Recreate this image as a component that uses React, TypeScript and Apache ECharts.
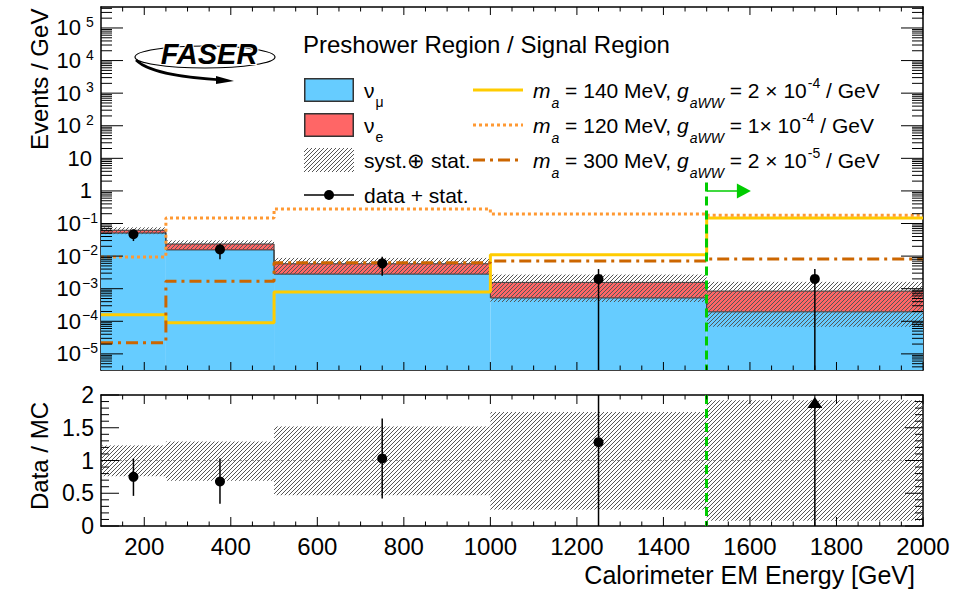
import React, { useEffect, useRef } from "react";
import * as echarts from "echarts";

const FONT = '"Liberation Sans", Arial, Helvetica, sans-serif';

// ---------- data ----------
const binEdges = [100, 250, 500, 1000, 1500, 2000];
const numuRate = [0.051, 0.0155, 0.0028, 0.00052, 0.000195];
const nueRate = [0.011, 0.008, 0.003, 0.00104, 0.00065];
const systLow = [0.76, 0.69, 0.47, 0.25, 0.08];
const systHigh = [1.23, 1.29, 1.52, 1.74, 1.92];
const dataRate = [0.0467, 0.016, 0.006, 0.002, 0.002];
const dataRateErr = [0.0177, 0.008, 0.0035, 0.002, 0.002];
const alp140 = [1.6e-4, 9.0e-5, 7.9e-4, 0.011, 0.148];
const alp120 = [0.0094, 0.148, 0.28, 0.196, 0.18];
const alp300 = [2.2e-5, 0.0017, 0.0062, 0.0071, 0.0082];
const ratioVal = [0.75, 0.68, 1.03, 1.28, 2.35];
const ratioLow = [0.46, 0.34, 0.42, 0, 0];
const ratioHigh = [1.03, 1.03, 1.64, 2.56, 4.7];

// ---------- axes / ticks ----------
const X_MIN = 100;
const X_MAX = 2000;
const Y_MIN = 3.2e-6;
const Y_MAX = 4.4e5;
const R_MIN = 0;
const R_MAX = 2;
const SIGNAL_CUT = 1500;
const xMajorTicks = [200, 400, 600, 800, 1000, 1200, 1400, 1600, 1800, 2000];
const logExponents = [-5, -4, -3, -2, -1, 0, 1, 2, 3, 4, 5];
const ratioMajorTicks = [0, 0.5, 1, 1.5, 2];

const xMinorTicks: number[] = [];
for (let v = 150; v < X_MAX; v += 50) if (v % 200 !== 0) xMinorTicks.push(v);
const yMajorTicks = logExponents.map((e) => Math.pow(10, e));
const yMinorTicks: number[] = [];
for (let e = -6; e <= 5; e++) {
  for (let m = 2; m <= 9; m++) {
    const v = m * Math.pow(10, e);
    if (v > Y_MIN && v < Y_MAX) yMinorTicks.push(v);
  }
}
const ratioMinorTicks: number[] = [];
for (let k = 1; k < 20; k++) if (k % 5 !== 0) ratioMinorTicks.push(k / 10);

// ---------- colours ----------
const BLUE = "#66ccff";
const RED = "#ff6666";
const YELLOW = "#ffcc00";
const ORANGE = "#ff9933";
const DARKORANGE = "#cc6600";
const GREEN = "#00cc00";
const HATCH = "#555555";

const mcTotal = numuRate.map((v, i) => v + nueRate[i]);
const binCenters = binEdges.slice(0, -1).map((e, i) => (e + binEdges[i + 1]) / 2);
const stepData = (vals: number[]) =>
  binEdges.map((e, i) => [e, vals[Math.min(i, vals.length - 1)]]);

type TickSpec = { dir: string; v: number; len: number };
const topTicks: TickSpec[] = [];
xMajorTicks.forEach((v) => topTicks.push({ dir: "x", v, len: 8 }));
xMinorTicks.forEach((v) => topTicks.push({ dir: "x", v, len: 4.5 }));
yMajorTicks.forEach((v) => topTicks.push({ dir: "y", v, len: 22 }));
yMinorTicks.forEach((v) => topTicks.push({ dir: "y", v, len: 11 }));
const ratioTicks: TickSpec[] = [];
xMajorTicks.forEach((v) => ratioTicks.push({ dir: "x", v, len: 9 }));
xMinorTicks.forEach((v) => ratioTicks.push({ dir: "x", v, len: 4.5 }));
ratioMajorTicks.forEach((v) => ratioTicks.push({ dir: "y", v, len: 18 }));
ratioMinorTicks.forEach((v) => ratioTicks.push({ dir: "y", v, len: 8 }));

function hatchLines(x0: number, y0: number, x1: number, y1: number, step: number) {
  const out: any[] = [];
  const cStart = Math.ceil((x0 + y0) / step) * step;
  for (let c = cStart; c <= x1 + y1; c += step) {
    const xa = Math.max(x0, c - y1);
    const ya = c - xa;
    const xb = Math.min(x1, c - y0);
    const yb = c - xb;
    if (xb > xa) out.push({ type: "line", shape: { x1: xa, y1: ya, x2: xb, y2: yb }, style: { stroke: HATCH, lineWidth: 1 } });
  }
  return out;
}

const svgIcon = (inner: string) =>
  "image://data:image/svg+xml;charset=utf-8," +
  encodeURIComponent(
    `<svg xmlns="http://www.w3.org/2000/svg" width="50" height="24" viewBox="0 0 50 24">${inner}</svg>`
  );

const hatchSvg = (() => {
  let s = "";
  for (let c = -24; c <= 50; c += 4) {
    s += `<line x1="${c}" y1="24" x2="${c + 24}" y2="0" stroke="${HATCH}" stroke-width="1"/>`;
  }
  return s;
})();

const NAME_NUMU = "νμ";
const NAME_NUE = "νe";
const NAME_SYST = "syst.⊕ stat.";
const NAME_DATA = "data + stat.";
const NAME_140 = "ma = 140 MeV, gaWW = 2 × 10-4 / GeV";
const NAME_120 = "ma = 120 MeV, gaWW = 1× 10-4 / GeV";
const NAME_300 = "ma = 300 MeV, gaWW = 2 × 10-5 / GeV";

const legendRich: Record<string, string> = {
  [NAME_NUMU]: "{b|ν}{sub|μ}",
  [NAME_NUE]: "{b|ν}{sub|e}",
  [NAME_SYST]: "{b|syst.⊕ stat.}",
  [NAME_DATA]: "{b|data + stat.}",
  [NAME_140]: "{i|m}{si|a}{b| = 140 MeV, }{i|g}{si|aWW}{b| = 2 × 10}{sup|-4}{b| / GeV}",
  [NAME_120]: "{i|m}{si|a}{b| = 120 MeV, }{i|g}{si|aWW}{b| = 1× 10}{sup|-4}{b| / GeV}",
  [NAME_300]: "{i|m}{si|a}{b| = 300 MeV, }{i|g}{si|aWW}{b| = 2 × 10}{sup|-5}{b| / GeV}",
};

const frameLine = () => ({ show: true, onZero: false, lineStyle: { color: "#000", width: 1.5 } });

function xAxisDef(gridIndex: number, position: string, labels: boolean) {
  return {
    type: "value",
    gridIndex,
    position,
    min: X_MIN,
    max: X_MAX,
    axisLine: frameLine(),
    axisTick: { show: false },
    axisLabel: labels
      ? {
          show: true,
          customValues: xMajorTicks,
          margin: 8,
          fontSize: 24,
          fontFamily: FONT,
          color: "#000",
          formatter: (v: number) => String(v),
        }
      : { show: false },
    splitLine: { show: false },
  };
}

function yLogDef(position: string, labels: boolean) {
  return {
    type: "log",
    logBase: 10,
    gridIndex: 0,
    position,
    min: Y_MIN,
    max: Y_MAX,
    axisLine: frameLine(),
    axisTick: { show: false },
    axisLabel: labels
      ? {
          show: true,
          customValues: yMajorTicks,
          margin: 2,
          fontFamily: FONT,
          color: "#000",
          formatter: (v: number) => {
            const e = Math.round(Math.log10(v));
            if (e === 0) return "{p|1}";
            if (e === 1) return "{p|10}";
            return `{b|10}{s|${e < 0 ? "−" + -e : e}}`;
          },
          rich: {
            p: { fontSize: 22, fontFamily: FONT, padding: [0, 7, 0, 0], lineHeight: 34 },
            b: { fontSize: 22, fontFamily: FONT, lineHeight: 34 },
            s: { fontSize: 14, fontFamily: FONT, lineHeight: 14, width: 18, align: "left", verticalAlign: "top", padding: [4, 0, 0, 0] },
          },
        }
      : { show: false },
    splitLine: { show: false },
  };
}

function yRatioDef(position: string, labels: boolean) {
  return {
    type: "value",
    gridIndex: 1,
    position,
    min: R_MIN,
    max: R_MAX,
    axisLine: frameLine(),
    axisTick: { show: false },
    axisLabel: labels
      ? { show: true, customValues: ratioMajorTicks, margin: 7, fontSize: 23, fontFamily: FONT, color: "#000" }
      : { show: false },
    splitLine: { show: false },
  };
}

function buildOption(): any {
  const series: any[] = [
    {
      name: NAME_NUMU,
      type: "custom",
      xAxisIndex: 0,
      yAxisIndex: 0,
      z: 1,
      data: binCenters.map((c, i) => [c, numuRate[i]]),
      renderItem: (params: any, api: any) => {
        const i = params.dataIndex;
        const a = api.coord([binEdges[i], numuRate[i]]);
        const b = api.coord([binEdges[i + 1], Y_MIN]);
        return { type: "rect", shape: { x: a[0], y: a[1], width: b[0] - a[0], height: b[1] - a[1] }, style: { fill: BLUE } };
      },
    },
    {
      name: NAME_NUE,
      type: "custom",
      xAxisIndex: 0,
      yAxisIndex: 0,
      z: 1,
      data: binCenters.map((c, i) => [c, mcTotal[i]]),
      renderItem: (params: any, api: any) => {
        const i = params.dataIndex;
        const a = api.coord([binEdges[i], mcTotal[i]]);
        const b = api.coord([binEdges[i + 1], numuRate[i]]);
        return { type: "rect", shape: { x: a[0], y: a[1], width: b[0] - a[0], height: b[1] - a[1] }, style: { fill: RED } };
      },
    },
    {
      name: "numu-outline",
      type: "line",
      xAxisIndex: 0,
      yAxisIndex: 0,
      z: 2,
      step: "end",
      symbol: "none",
      data: stepData(numuRate),
      lineStyle: { color: "#333", width: 1 },
      silent: true,
    },
    {
      name: "mc-outline",
      type: "line",
      xAxisIndex: 0,
      yAxisIndex: 0,
      z: 2,
      step: "end",
      symbol: "none",
      data: stepData(mcTotal),
      lineStyle: { color: "#333", width: 1 },
      silent: true,
    },
    {
      name: NAME_SYST,
      type: "custom",
      xAxisIndex: 0,
      yAxisIndex: 0,
      z: 3,
      data: binCenters.map((c, i) => [c, mcTotal[i]]),
      renderItem: (params: any, api: any) => {
        const i = params.dataIndex;
        const a = api.coord([binEdges[i], mcTotal[i] * systHigh[i]]);
        const b = api.coord([binEdges[i + 1], mcTotal[i] * systLow[i]]);
        return { type: "group", children: hatchLines(a[0], a[1], b[0], b[1], 4) };
      },
    },
    {
      name: NAME_140,
      type: "line",
      xAxisIndex: 0,
      yAxisIndex: 0,
      z: 4,
      step: "end",
      symbol: "none",
      data: stepData(alp140),
      lineStyle: { color: YELLOW, width: 3 },
      markLine: {
        silent: true,
        symbol: "none",
        z: 6,
        label: { show: false },
        lineStyle: { color: GREEN, width: 3, type: [9, 5] },
        data: [
          [{ coord: [SIGNAL_CUT, 1.8] }, { coord: [SIGNAL_CUT, Y_MIN] }],
          [
            { coord: [SIGNAL_CUT, 1], symbol: "none", lineStyle: { color: GREEN, width: 1.5, type: "solid" } },
            { coord: [1586, 1], symbol: "triangle", symbolSize: [15, 14] },
          ],
        ],
      },
    },
    {
      name: NAME_120,
      type: "line",
      xAxisIndex: 0,
      yAxisIndex: 0,
      z: 4,
      step: "end",
      symbol: "none",
      data: stepData(alp120),
      lineStyle: { color: ORANGE, width: 3, type: [3, 3] },
    },
    {
      name: NAME_300,
      type: "line",
      xAxisIndex: 0,
      yAxisIndex: 0,
      z: 4,
      step: "end",
      symbol: "none",
      data: stepData(alp300),
      lineStyle: { color: DARKORANGE, width: 3, type: [12, 5, 3, 5] },
    },
    {
      name: NAME_DATA,
      type: "custom",
      xAxisIndex: 0,
      yAxisIndex: 0,
      z: 7,
      data: binCenters.map((c, i) => [c, dataRate[i]]),
      renderItem: (params: any, api: any) => {
        const i = params.dataIndex;
        const x = binCenters[i];
        const c = api.coord([x, dataRate[i]]);
        const top = api.coord([x, dataRate[i] + dataRateErr[i]]);
        const bot = api.coord([x, Math.max(dataRate[i] - dataRateErr[i], Y_MIN)]);
        return {
          type: "group",
          children: [
            { type: "line", shape: { x1: c[0], y1: top[1], x2: c[0], y2: bot[1] }, style: { stroke: "#000", lineWidth: 1.5 } },
            { type: "circle", shape: { cx: c[0], cy: c[1], r: 5 }, style: { fill: "#000" } },
          ],
        };
      },
    },
    // ---------- ratio panel ----------
    {
      name: "ratio-syst",
      type: "custom",
      xAxisIndex: 2,
      yAxisIndex: 2,
      z: 3,
      data: binCenters.map((c) => [c, 1]),
      renderItem: (params: any, api: any) => {
        const i = params.dataIndex;
        const a = api.coord([binEdges[i], systHigh[i]]);
        const b = api.coord([binEdges[i + 1], systLow[i]]);
        return { type: "group", children: hatchLines(a[0], a[1], b[0], b[1], 4) };
      },
    },
    {
      name: "ratio-one",
      type: "line",
      xAxisIndex: 2,
      yAxisIndex: 2,
      z: 2,
      symbol: "none",
      data: [
        [X_MIN, 1],
        [X_MAX, 1],
      ],
      lineStyle: { color: "#999", width: 1, type: [3, 3] },
      markLine: {
        silent: true,
        symbol: "none",
        z: 6,
        label: { show: false },
        lineStyle: { color: GREEN, width: 3, type: [9, 5] },
        data: [[{ coord: [SIGNAL_CUT, R_MAX] }, { coord: [SIGNAL_CUT, R_MIN] }]],
      },
    },
    {
      name: "ratio-data",
      type: "custom",
      xAxisIndex: 2,
      yAxisIndex: 2,
      z: 7,
      data: binCenters.map((c, i) => [c, Math.min(ratioVal[i], R_MAX)]),
      renderItem: (params: any, api: any) => {
        const i = params.dataIndex;
        const x = binCenters[i];
        const top = api.coord([x, Math.min(ratioHigh[i], R_MAX)]);
        const bot = api.coord([x, Math.max(ratioLow[i], R_MIN)]);
        if (ratioVal[i] > R_MAX) {
          const t = api.coord([x, R_MAX]);
          return {
            type: "group",
            children: [
              { type: "line", shape: { x1: t[0], y1: t[1] + 12, x2: t[0], y2: bot[1] }, style: { stroke: "#000", lineWidth: 1.5 } },
              {
                type: "polygon",
                shape: { points: [[t[0], t[1] + 2], [t[0] - 7.5, t[1] + 13], [t[0] + 7.5, t[1] + 13]] },
                style: { fill: "#000" },
              },
            ],
          };
        }
        const c = api.coord([x, ratioVal[i]]);
        return {
          type: "group",
          children: [
            { type: "line", shape: { x1: c[0], y1: top[1], x2: c[0], y2: bot[1] }, style: { stroke: "#000", lineWidth: 1.5 } },
            { type: "circle", shape: { cx: c[0], cy: c[1], r: 5 }, style: { fill: "#000" } },
          ],
        };
      },
    },
  ];

  const legendCommon = {
    orient: "vertical",
    itemWidth: 50,
    itemHeight: 24,
    itemGap: -7,
    selectedMode: false,
    padding: 0,
  };

  return {
    animation: false,
    backgroundColor: "#fff",
    title: {
      text: "Preshower Region / Signal Region",
      left: 303,
      top: 32,
      padding: 0,
      textStyle: { fontSize: 24, fontWeight: "normal", fontFamily: FONT, color: "#000" },
    },
    grid: [
      { left: 101, right: 53, top: 7, height: 363 },
      { left: 101, right: 53, top: 395, height: 131 },
    ],
    legend: [
      {
        ...legendCommon,
        left: 304,
        top: 69,
        data: [
          { name: NAME_NUMU, icon: svgIcon(`<rect x="0.75" y="0.75" width="48.5" height="22.5" fill="${BLUE}" stroke="#333" stroke-width="1.5"/>`) },
          { name: NAME_NUE, icon: svgIcon(`<rect x="0.75" y="0.75" width="48.5" height="22.5" fill="${RED}" stroke="#333" stroke-width="1.5"/>`) },
          { name: NAME_SYST, icon: svgIcon(hatchSvg) },
          {
            name: NAME_DATA,
            icon: svgIcon(`<line x1="0" y1="12" x2="50" y2="12" stroke="#000" stroke-width="1.5"/><circle cx="25" cy="12" r="5" fill="#000"/>`),
          },
        ],
        formatter: (name: string) => legendRich[name] || name,
        textStyle: {
          fontSize: 21,
          fontFamily: FONT,
          color: "#000",
          lineHeight: 42,
          padding: [0, 0, 0, 5],
          rich: {
            b: { fontSize: 21, fontFamily: FONT, lineHeight: 42, color: "#000" },
            sub: { fontSize: 14, fontFamily: FONT, lineHeight: 14, padding: [24, 0, 0, 1], color: "#000" },
          },
        },
      },
      {
        ...legendCommon,
        left: 473,
        top: 69,
        data: [
          { name: NAME_140, icon: svgIcon(`<line x1="0" y1="12" x2="50" y2="12" stroke="${YELLOW}" stroke-width="3"/>`) },
          { name: NAME_120, icon: svgIcon(`<line x1="0" y1="12" x2="50" y2="12" stroke="${ORANGE}" stroke-width="3" stroke-dasharray="3 3"/>`) },
          { name: NAME_300, icon: svgIcon(`<line x1="0" y1="12" x2="50" y2="12" stroke="${DARKORANGE}" stroke-width="3" stroke-dasharray="12 5 3 5"/>`) },
        ],
        formatter: (name: string) => legendRich[name] || name,
        textStyle: {
          fontSize: 21,
          fontFamily: FONT,
          color: "#000",
          lineHeight: 42,
          padding: [0, 0, 0, 5],
          rich: {
            b: { fontSize: 21, fontFamily: FONT, lineHeight: 42, color: "#000" },
            i: { fontSize: 21, fontFamily: FONT, fontStyle: "italic", lineHeight: 42, color: "#000" },
            si: { fontSize: 14, fontFamily: FONT, fontStyle: "italic", lineHeight: 14, padding: [26, 0, 0, 1], color: "#000" },
            sup: { fontSize: 14, fontFamily: FONT, lineHeight: 14, padding: [0, 0, 14, 1], color: "#000" },
          },
        },
      },
    ],
    xAxis: [
      xAxisDef(0, "bottom", false),
      xAxisDef(0, "top", false),
      xAxisDef(1, "bottom", true),
      xAxisDef(1, "top", false),
    ],
    yAxis: [
      yLogDef("left", true),
      yLogDef("right", false),
      yRatioDef("left", true),
      yRatioDef("right", false),
    ],
    graphic: [
      {
        type: "text",
        x: 39,
        y: 150,
        rotation: Math.PI / 2,
        style: { text: "Events / GeV", fontSize: 24, fontFamily: FONT, fill: "#000", align: "left", verticalAlign: "middle" },
      },
      {
        type: "text",
        x: 39,
        y: 510,
        rotation: Math.PI / 2,
        style: { text: "Data / MC", fontSize: 24, fontFamily: FONT, fill: "#000", align: "left", verticalAlign: "middle" },
      },
      {
        type: "text",
        x: 915,
        y: 575,
        style: { text: "Calorimeter EM Energy [GeV]", fontSize: 25, fontFamily: FONT, fill: "#000", align: "right", verticalAlign: "middle" },
      },
      {
        type: "group",
        children: [
          { type: "ellipse", shape: { cx: 205, cy: 57, rx: 70, ry: 11 }, style: { fill: "none", stroke: "#000", lineWidth: 1.2 } },
          {
            type: "bezierCurve",
            shape: { x1: 136, y1: 60, cpx1: 150, cpy1: 74, cpx2: 190, cpy2: 78, x2: 222, y2: 80 },
            style: { fill: "none", stroke: "#000", lineWidth: 2.5 },
          },
          { type: "polygon", shape: { points: [[216, 76], [234, 81], [216, 84]] }, style: { fill: "#000" } },
          {
            type: "text",
            x: 209,
            y: 54,
            style: {
              text: "FASER",
              font: `italic bold 29px ${FONT}`,
              fill: "#000",
              align: "center",
              verticalAlign: "middle",
              stroke: "#fff",
              lineWidth: 2,
            },
          },
        ],
      },
    ],
    series,
  };
}

// tick marks on all four sides of a panel, positioned with the chart's own axis scales
function tickRects(chart: any, xi: number, yi: number, specs: TickSpec[], yLo: number, yHi: number) {
  const out: any[] = [];
  const finder = { xAxisIndex: xi, yAxisIndex: yi };
  const mk = (x: number, y: number, w: number, h: number) => ({
    type: "rect",
    z: 100,
    silent: true,
    shape: { x, y, width: w, height: h },
    style: { fill: "#000" },
  });
  specs.forEach((s) => {
    if (s.dir === "x") {
      const b = chart.convertToPixel(finder, [s.v, yLo]);
      const t = chart.convertToPixel(finder, [s.v, yHi]);
      if (!b || !t) return;
      out.push(mk(b[0] - 0.5, b[1] - s.len, 1, s.len));
      out.push(mk(t[0] - 0.5, t[1], 1, s.len));
    } else {
      const l = chart.convertToPixel(finder, [X_MIN, s.v]);
      const r = chart.convertToPixel(finder, [X_MAX, s.v]);
      if (!l || !r) return;
      out.push(mk(l[0], l[1] - 0.5, s.len, 1));
      out.push(mk(r[0] - s.len, r[1] - 0.5, s.len, 1));
    }
  });
  return out;
}

export default function App() {
  const ref = useRef<HTMLDivElement>(null);
  useEffect(() => {
    if (!ref.current) return;
    const chart = echarts.init(ref.current, null, { renderer: "svg" });
    const option = buildOption();
    chart.setOption(option);
    try {
      const ticks = [
        ...tickRects(chart, 0, 0, topTicks, Y_MIN, Y_MAX),
        ...tickRects(chart, 2, 2, ratioTicks, R_MIN, R_MAX),
      ];
      option.graphic = [...option.graphic, ...ticks];
      chart.setOption(option, true);
    } catch (e) {
      // keep the chart without extra ticks if conversion fails
    }
    return () => chart.dispose();
  }, []);
  return (
    <div
      ref={ref}
      style={{ position: "fixed", left: 0, top: 0, width: 976, height: 592, background: "#fff" }}
    />
  );
}
